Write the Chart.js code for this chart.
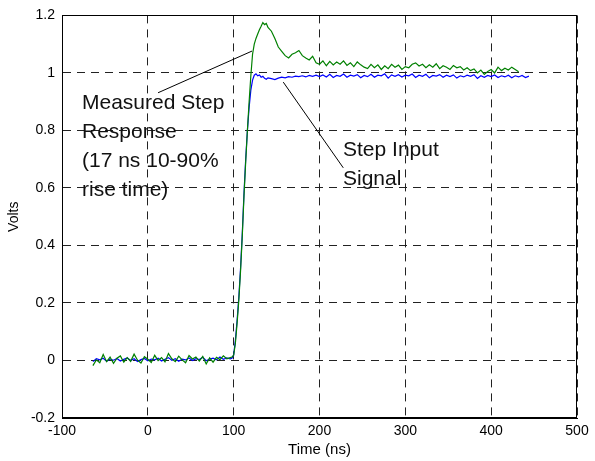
<!DOCTYPE html>
<html>
<head>
<meta charset="utf-8">
<script src="https://cdn.jsdelivr.net/npm/chart.js@4.4.1/dist/chart.umd.min.js"></script>
<style>
  html, body { margin: 0; padding: 0; background: #fff; }
  #wrap { width: 595px; height: 461px; }
</style>
</head>
<body>
<div id="wrap"><canvas id="stepChart" width="595" height="461"></canvas></div>
<script>
// sample times (ns), one row per 10 samples
const timeNs = [
  -64, -60, -56, -52, -48, -44, -40, -36, -32, -28,
  -24, -20, -16, -12, -8, -4, 0, 4, 8, 12,
  16, 20, 24, 28, 32, 36, 40, 44, 48, 52,
  56, 60, 64, 68, 72, 76, 80, 84, 88, 92,
  96, 98, 100, 102, 104, 106, 108, 110, 112, 114,
  116, 118, 120, 122, 124, 126, 128, 130, 132, 134,
  136, 138, 140, 144, 148, 152, 156, 160, 164, 168,
  172, 176, 180, 184, 188, 192, 196, 200, 204, 208,
  212, 216, 220, 224, 228, 232, 236, 240, 244, 248,
  252, 256, 260, 264, 268, 272, 276, 280, 284, 288,
  292, 296, 300, 304, 308, 312, 316, 320, 324, 328,
  332, 336, 340, 344, 348, 352, 356, 360, 364, 368,
  372, 376, 380, 384, 388, 392, 396, 400, 404, 408,
  412, 416, 420, 424, 428, 432, 436, 440, 444
];

// step input signal (blue)
const inputVolts = [
  -0.004, 0.006, 0.002, 0.008, -0.003, 0.005, 0.001, 0.007, -0.002, 0.004,
  0.009, 0.000, 0.006, -0.004, 0.003, 0.007, -0.001, 0.005, 0.002, 0.008,
  -0.002, 0.004, 0.010, 0.001, 0.006, -0.003, 0.005, 0.002, 0.009, 0.000,
  0.006, 0.003, 0.011, -0.001, 0.005, 0.008, 0.002, 0.012, 0.004, 0.009,
  0.006, 0.008, 0.02, 0.07, 0.14, 0.22, 0.32, 0.44, 0.58, 0.70,
  0.80, 0.88, 0.94, 0.975, 0.992, 0.997, 0.99, 0.993, 0.985, 0.988,
  0.981, 0.978, 0.983, 0.98, 0.977, 0.982, 0.985, 0.983, 0.987, 0.985,
  0.989, 0.987, 0.99, 0.986, 0.991, 0.988, 0.992, 0.987, 0.993, 0.986,
  0.995, 0.984, 0.991, 0.988, 0.996, 0.985, 0.992, 0.989, 0.994, 0.983,
  0.991, 0.987, 0.995, 0.985, 0.992, 0.99, 0.997, 0.982, 0.993, 0.988,
  0.994, 0.986, 0.992, 0.99, 0.996, 0.984, 0.992, 0.988, 0.995, 0.983,
  0.991, 0.989, 0.994, 0.985, 0.992, 0.987, 0.993, 0.982, 0.99, 0.986,
  0.992, 0.988, 0.994, 0.981, 0.99, 0.985, 0.991, 0.987, 0.993, 0.984,
  0.99, 0.986, 0.992, 0.983, 0.99, 0.986, 0.991, 0.984, 0.989
];

// measured step response (green)
const measuredVolts = [
  -0.018, 0.002, -0.008, 0.021, -0.004, 0.012, -0.010, 0.008, 0.016, -0.006,
  0.010, -0.003, 0.022, 0.001, -0.009, 0.013, 0.004, -0.007, 0.018, 0.000,
  0.010, -0.005, 0.024, 0.006, -0.004, 0.015, 0.002, -0.008, 0.017, 0.005,
  0.012, -0.002, 0.014, -0.012, 0.009, -0.006, 0.011, 0.003, 0.016, 0.006,
  0.010, 0.012, 0.018, 0.06, 0.13, 0.21, 0.31, 0.43, 0.57, 0.69,
  0.80, 0.90, 0.99, 1.065, 1.10, 1.12, 1.135, 1.15, 1.162, 1.175,
  1.168, 1.172, 1.158, 1.145, 1.12, 1.09, 1.075, 1.06, 1.052, 1.065,
  1.07, 1.078, 1.06, 1.052, 1.045, 1.058, 1.035, 1.03, 1.042, 1.025,
  1.04, 1.028, 1.038, 1.03, 1.042, 1.026, 1.035, 1.022, 1.038, 1.028,
  1.02, 1.015, 1.03, 1.018, 1.028, 1.012, 1.025, 1.015, 1.03, 1.02,
  1.027, 1.012, 1.022, 1.018, 1.03, 1.035, 1.024, 1.03, 1.018, 1.028,
  1.02, 1.032, 1.015, 1.025, 1.02, 1.012, 1.026, 1.018, 1.022, 1.01,
  1.018, 1.008, 1.014, 1.0, 1.01, 0.995, 1.005, 1.012, 1.0, 1.02,
  1.008, 1.016, 1.01, 1.02, 1.012, 1.004, null, null, null
];

const xRange = [-100, 500];
const yRange = [-0.2, 1.2];

// annotation texts, anchored in data units (time ns, volts)
const measuredNote = ['Measured Step', 'Response', '(17 ns 10-90%', 'rise time)'];
const measuredNoteAt = [-76.7, 0.876];
const measuredLeader = [[11.9, 0.931], [121.4, 1.076]];
const inputNote = ['Step Input', 'Signal'];
const inputNoteAt = [227.4, 0.711];
const inputLeader = [[157.8, 0.968], [227.7, 0.67]];

const toPoints = (values) => timeNs.map((t, i) => ({ x: t, y: values[i] }));

Chart.defaults.font.family = '"Liberation Sans", Arial, sans-serif';
Chart.defaults.color = '#000';

const notesPlugin = {
  id: 'notes',
  afterDraw(chart) {
    const { ctx, chartArea: a, scales: { x, y } } = chart;
    const px = (t) => x.getPixelForValue(t);
    const py = (v) => y.getPixelForValue(v);
    ctx.save();

    // box round the plot
    ctx.strokeStyle = '#000';
    ctx.lineWidth = 1;
    ctx.strokeRect(Math.round(a.left) + 0.5, Math.round(a.top) + 0.5,
      Math.round(a.right - a.left) - 1, Math.round(a.bottom - a.top) - 1);

    // leader lines
    [measuredLeader, inputLeader].forEach(([p0, p1]) => {
      ctx.beginPath();
      ctx.moveTo(px(p0[0]), py(p0[1]));
      ctx.lineTo(px(p1[0]), py(p1[1]));
      ctx.stroke();
    });

    ctx.fillStyle = '#111';
    ctx.font = '21px "Liberation Sans", Arial, sans-serif';
    ctx.textAlign = 'left';
    ctx.textBaseline = 'alphabetic';
    measuredNote.forEach((line, i) => {
      ctx.fillText(line, px(measuredNoteAt[0]), py(measuredNoteAt[1]) + i * 29);
    });
    inputNote.forEach((line, i) => {
      ctx.fillText(line, px(inputNoteAt[0]), py(inputNoteAt[1]) + i * 28.5);
    });
    ctx.restore();
  }
};

new Chart(document.getElementById('stepChart'), {
  type: 'line',
  data: {
    datasets: [
      {
        label: 'Measured Step Response',
        data: toPoints(measuredVolts),
        borderColor: '#008000',
        borderWidth: 1.2,
        pointRadius: 0,
        order: 0
      },
      {
        label: 'Step Input Signal',
        data: toPoints(inputVolts),
        borderColor: '#0000ff',
        borderWidth: 1.2,
        pointRadius: 0,
        order: 1
      }
    ]
  },
  options: {
    responsive: false,
    animation: false,
    devicePixelRatio: 1,
    spanGaps: false,
    layout: { padding: { left: 0, right: 18, top: 11, bottom: 0 } },
    plugins: { legend: { display: false }, tooltip: { enabled: false } },
    scales: {
      x: {
        type: 'linear',
        min: xRange[0],
        max: xRange[1],
        ticks: { stepSize: 100, padding: 5, maxRotation: 0, color: '#000', font: { size: 14 } },
        grid: { color: '#222', lineWidth: 1, drawTicks: false },
        border: { display: true, color: '#000', width: 1, dash: [8, 6] },
        title: { display: true, text: 'Time (ns)', color: '#000', font: { size: 15 }, padding: { top: 0, bottom: 2 } },
        afterFit(scale) { scale.height = 43; }
      },
      y: {
        type: 'linear',
        min: yRange[0],
        max: yRange[1],
        ticks: {
          stepSize: 0.2,
          padding: 7,
          color: '#000',
          font: { size: 14 },
          callback: (v) => String(Number(v.toFixed(1)))
        },
        grid: { color: '#222', lineWidth: 1, drawTicks: false },
        border: { display: true, color: '#000', width: 1, dash: [8, 6] },
        title: { display: true, text: 'Volts', color: '#000', font: { size: 14 }, padding: { top: 6, bottom: 0 } },
        afterFit(scale) { scale.width = 62; }
      }
    }
  },
  plugins: [notesPlugin]
});
</script>
</body>
</html>
